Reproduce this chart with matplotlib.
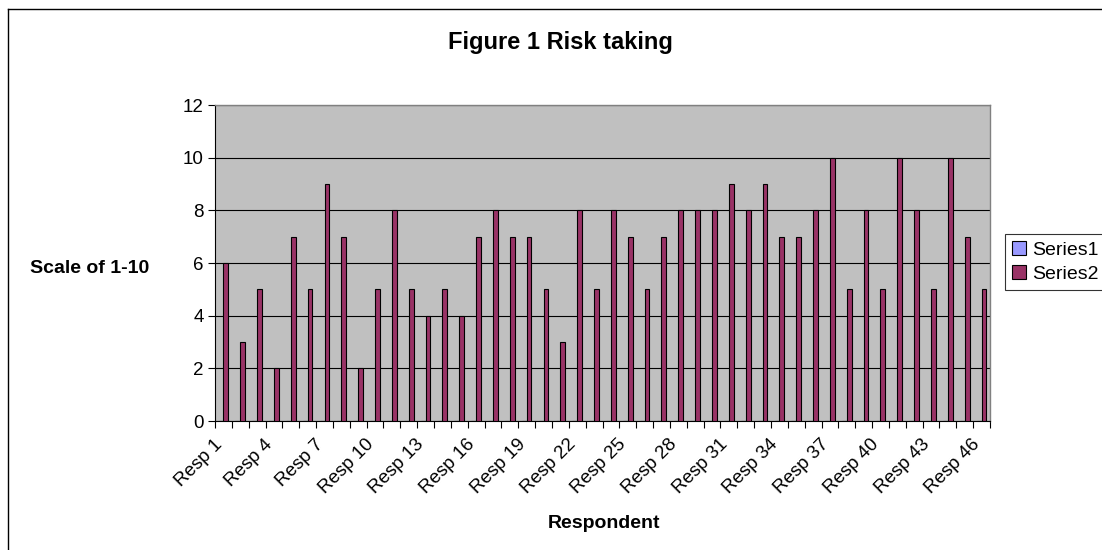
import matplotlib
matplotlib.use("Agg")
import matplotlib.pyplot as plt
import matplotlib.transforms as mtransforms
import numpy as np
from matplotlib.patches import Patch

plt.rcParams['font.family'] = ['Liberation Sans', 'DejaVu Sans']

categories = [f"Resp {i}" for i in range(1, 47)]
series1 = [0] * 46
series2 = [6, 3, 5, 2, 7, 5, 9, 7, 2, 5, 8, 5, 4, 5, 4, 7, 8, 7, 7, 5, 3,
           8, 5, 8, 7, 5, 7, 8, 8, 8, 9, 8, 9, 7, 7, 8, 10, 5, 8, 5, 10,
           8, 5, 10, 7, 5]
yticks = [0, 2, 4, 6, 8, 10, 12]

fig = plt.figure(figsize=(11.02, 5.5), dpi=100)
ax = fig.add_axes([215/1102, 1-421/550, 775/1102, 316/550])

x = np.arange(len(categories))
w = 1/3.5
ax.bar(x - w/2, series1, width=w, color='#9999FF', edgecolor='black', linewidth=0.8, zorder=3)
ax.bar(x + w/2, series2, width=w, color='#993366', edgecolor='black', linewidth=0.8, zorder=3)

ax.set_facecolor('#C0C0C0')
ax.set_xlim(-0.5, len(categories) - 0.5)
ax.set_ylim(0, 12)
ax.set_yticks(yticks)
ax.set_yticklabels([str(v) for v in yticks], fontsize=13.5)
ax.yaxis.grid(True, color='black', linewidth=0.8, zorder=1)
ax.set_axisbelow(True)

# category boundary ticks, labels every third category drawn as rotated text
ax.set_xticks(np.arange(-0.5, len(categories)))
ax.set_xticklabels([])
ax.tick_params(axis='x', length=5, width=0.8, direction='out')
ax.tick_params(axis='y', length=5, width=0.8, direction='out', pad=3)

trans = mtransforms.blended_transform_factory(ax.transData, ax.transAxes) + \
    mtransforms.ScaledTranslation(-10/100, -15/100, fig.dpi_scale_trans)
for xi in x[::3]:
    ax.text(xi, 0, categories[xi], transform=trans, rotation=45,
            rotation_mode='anchor', ha='right', va='top', fontsize=13.5,
            clip_on=False)

for s in ['top', 'right']:
    ax.spines[s].set_color('#808080')
    ax.spines[s].set_linewidth(1)
for s in ['left', 'bottom']:
    ax.spines[s].set_color('black')
    ax.spines[s].set_linewidth(0.8)

fig.text(560/1102, 1-42/550, "Figure 1 Risk taking", ha='center', va='center',
         fontsize=17, fontweight='bold')
fig.text(90/1102, 1-269/550, "Scale of 1-10", ha='center', va='center',
         fontsize=14, fontweight='bold')
fig.text(604/1102, 1-524/550, "Respondent", ha='center', va='center',
         fontsize=14, fontweight='bold')

handles = [Patch(facecolor='#9999FF', edgecolor='black', linewidth=0.8, label='Series1'),
           Patch(facecolor='#993366', edgecolor='black', linewidth=0.8, label='Series2')]
leg = fig.legend(handles=handles, loc='center left', bbox_to_anchor=(1005/1102, 1-262/550),
                 fontsize=14, frameon=True, fancybox=False, edgecolor='black',
                 handlelength=0.75, handleheight=0.75, handletextpad=0.3,
                 borderpad=0.35, labelspacing=0.3, borderaxespad=0)
leg.get_frame().set_linewidth(0.8)

# outer chart border (left and top visible)
fig.add_artist(plt.Line2D([8/1102, 8/1102], [0, 1-9/550], transform=fig.transFigure,
                          color='black', linewidth=1))
fig.add_artist(plt.Line2D([8/1102, 1], [1-9/550, 1-9/550], transform=fig.transFigure,
                          color='black', linewidth=1))

fig.savefig("out.png", dpi=100)
